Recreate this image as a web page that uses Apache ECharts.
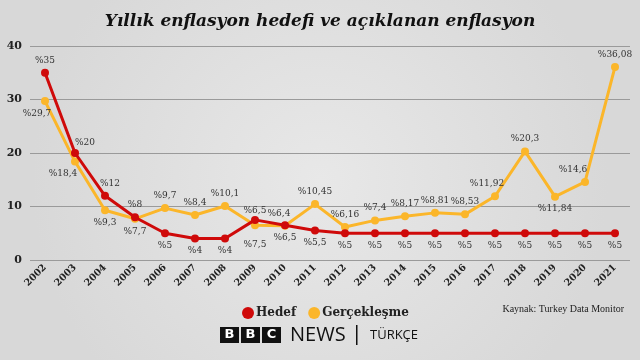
<!DOCTYPE html>
<html><head><meta charset="utf-8">
<script src="https://cdn.jsdelivr.net/npm/echarts@6/dist/echarts.min.js"></script>
<style>html,body{margin:0;padding:0;}#c{width:640px;height:360px;}</style>
</head><body><div id="c"></div>
<script>
const years = ['2002','2003','2004','2005','2006','2007','2008','2009','2010','2011','2012','2013','2014','2015','2016','2017','2018','2019','2020','2021'];
const hedef = [35,20,12,8,5,4,4,7.5,6.5,5.5,5,5,5,5,5,5,5,5,5,5];
const gercek = [29.7,18.4,9.3,7.7,9.7,8.4,10.1,6.5,6.4,10.45,6.16,7.4,8.17,8.81,8.53,11.92,20.3,11.84,14.6,36.08];
const hedefPos = ['top','top','top','top','bottom','bottom','bottom','bottom','bottom','bottom','bottom','bottom','bottom','bottom','bottom','bottom','bottom','bottom','bottom','bottom'];
const gercekPos = ['bottom','bottom','bottom','bottom','top','top','top','top','top','top','top','top','top','top','top','top','top','bottom','top','top'];
const fmt = v => '%' + String(v).replace('.', ',');

const hedefOff = {1:[10,2],2:[5,0],7:[0,12]};
const gercekOff = {0:[-8,0],1:[-12,0],7:[0,-2],8:[-6,0],15:[-8,0],18:[-12,0]};

function mk(vals, pos, off){
  return vals.map((v,i)=>({value:v,label:{position:pos[i],offset:off[i]||[0,0]}}));
}
const chart = echarts.init(document.getElementById('c'));
const lblFont = {fontFamily:'DejaVu Serif',fontSize:9,color:'#333',formatter:p=>fmt(p.value)};
chart.setOption({
  backgroundColor:{type:'radial',x:0.5,y:0.5,r:0.8,colorStops:[{offset:0,color:'#e8e8e8'},{offset:1,color:'#d8d8d8'}]},
  animation:false,
  title:{text:'Yıllık enflasyon hedefi ve açıklanan enflasyon',left:'center',top:8,
    textStyle:{fontFamily:'DejaVu Serif',fontStyle:'italic',fontWeight:'bold',fontSize:17,color:'#111'}},
  legend:{left:237,top:302,itemWidth:12,itemHeight:12,itemGap:12,icon:'circle',
    textStyle:{fontFamily:'DejaVu Serif',fontWeight:'bold',fontSize:12,color:'#222',padding:[0,0,0,-3]},
    data:['Hedef','Gerçekleşme']},
  grid:{left:30,right:10,top:46,bottom:100},
  xAxis:{type:'category',data:years,boundaryGap:true,
    axisLine:{show:false},axisTick:{show:false},
    axisLabel:{rotate:45,margin:6,fontFamily:'DejaVu Serif',fontWeight:'bold',fontSize:9.5,color:'#222'}},
  yAxis:{type:'value',min:0,max:40,interval:10,
    axisLabel:{margin:8,fontFamily:'DejaVu Serif',fontWeight:'bold',fontSize:11,color:'#222'},
    splitLine:{lineStyle:{color:'#9a9a9a',width:1}},axisLine:{show:false},axisTick:{show:false}},
  series:[
    {name:'Gerçekleşme',type:'line',data:mk(gercek,gercekPos,gercekOff),color:'#fbb62a',
      lineStyle:{width:3,color:'#fbb62a'},symbol:'circle',symbolSize:8,itemStyle:{color:'#fbb62a'},
      label:Object.assign({show:true,distance:4},lblFont),z:2},
    {name:'Hedef',type:'line',data:mk(hedef,hedefPos,hedefOff),color:'#cf0a0a',
      lineStyle:{width:3,color:'#cf0a0a'},symbol:'circle',symbolSize:8,itemStyle:{color:'#cf0a0a'},
      label:Object.assign({show:true,distance:4},lblFont),z:3}
  ],
  graphic:[
    {type:'text',right:16,top:304,style:{text:'Kaynak: Turkey Data Monitor',font:'10px "Liberation Serif"',fill:'#222'}},
    {type:'rect',shape:{x:220,y:327,width:19,height:16},style:{fill:'#111'}},
    {type:'rect',shape:{x:241,y:327,width:19,height:16},style:{fill:'#111'}},
    {type:'rect',shape:{x:262,y:327,width:19,height:16},style:{fill:'#111'}},
    {type:'text',x:229.5,y:335,style:{text:'B',font:'bold 13px "DejaVu Sans"',fill:'#fff',align:'center',verticalAlign:'middle'}},
    {type:'text',x:250.5,y:335,style:{text:'B',font:'bold 13px "DejaVu Sans"',fill:'#fff',align:'center',verticalAlign:'middle'}},
    {type:'text',x:271.5,y:335,style:{text:'C',font:'bold 13px "DejaVu Sans"',fill:'#fff',align:'center',verticalAlign:'middle'}},
    {type:'text',x:290,y:335,style:{text:'NEWS',font:'20px "Open Sans"',fill:'#111',verticalAlign:'middle'}},
    {type:'rect',shape:{x:356,y:325,width:1.5,height:20},style:{fill:'#111'}},
    {type:'text',x:370,y:335,style:{text:'TÜRKÇE',font:'13px "Open Sans"',fill:'#111',verticalAlign:'middle'}}
  ]
});
</script></body></html>
